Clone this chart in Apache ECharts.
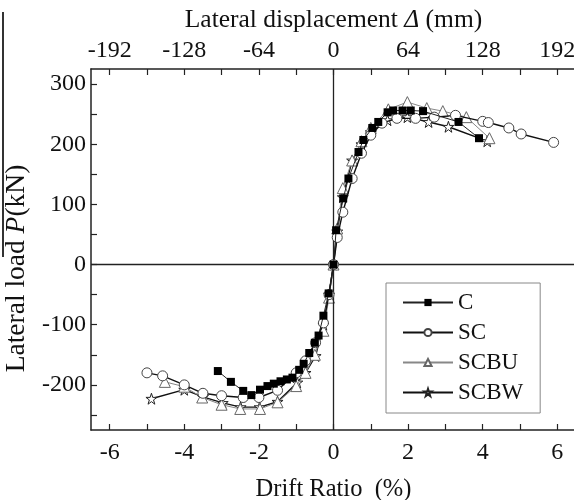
<!DOCTYPE html>
<html lang="en">
<head>
<meta charset="UTF-8">
<title>Lateral load vs drift ratio</title>
<script src="https://cdn.jsdelivr.net/npm/echarts@6/dist/echarts.min.js"></script>
<style>
  html, body { margin: 0; padding: 0; background: #fff; }
  #chart { width: 574px; height: 500px; }
</style>
</head>
<body>
<div id="chart"></div>
<script>
// drift ratio (%) / lateral load (kN)
var cDrift = [-3.1, -2.75, -2.42, -2.2, -1.97, -1.77, -1.6, -1.42, -1.25, -1.1, -0.92, -0.8, -0.65, -0.5, -0.4, -0.27, -0.13, 0, 0.07, 0.26, 0.4, 0.67, 0.8, 1.04, 1.2, 1.45, 1.6, 1.85, 2.07, 2.4, 3.35, 3.9];
var cLoad = [-177, -195, -210, -217, -208, -202, -198, -194, -191, -188, -175, -165, -147, -130, -118, -85, -48, 0, 57, 110, 143, 187, 207, 227, 237, 253, 256, 256, 256, 255, 237, 210];

var scDrift = [-5.0, -4.58, -4.0, -3.5, -3.0, -2.42, -2.0, -1.5, -1.0, -0.75, -0.48, -0.27, -0.12, 0, 0.1, 0.25, 0.5, 0.75, 1.0, 1.3, 1.7, 2.2, 2.7, 3.27, 4.0, 4.15, 4.7, 5.03, 5.9];
var scLoad = [-180, -185, -200, -214, -218, -221, -221, -209, -180, -160, -130, -97, -50, 0, 45, 87, 143, 185, 215, 235, 243, 243, 245, 248, 238, 236, 227, 217, 203];

var buDrift = [-4.52, -4.0, -3.52, -3.0, -2.5, -1.97, -1.5, -1.0, -0.75, -0.5, -0.27, -0.12, 0, 0.1, 0.25, 0.5, 0.75, 1.0, 1.47, 1.98, 2.5, 2.93, 3.56, 4.18];
var buLoad = [-195, -203, -221, -233, -240, -240, -229, -202, -180, -150, -110, -55, 0, 60, 127, 173, 205, 227, 258, 270, 260, 255, 245, 210];

var bwDrift = [-4.88, -4.0, -3.5, -2.97, -2.49, -1.98, -1.5, -0.97, -0.75, -0.48, -0.27, -0.12, 0, 0.1, 0.25, 0.5, 0.75, 1.0, 1.45, 1.98, 2.55, 3.08, 4.12];
var bwLoad = [-223, -208, -220, -230, -237, -237, -228, -196, -180, -152, -100, -50, 0, 55, 112, 173, 200, 220, 240, 245, 237, 229, 205];

var seriesNames = ['C', 'SC', 'SCBU', 'SCBW'];

// tick positions
var driftLabels = [-6, -4, -2, 0, 2, 4, 6];
var driftTicks = [-6, -5, -4, -3, -2, -1, 0, 1, 2, 3, 4, 5, 6];
var dispLabels = [-192, -128, -64, 0, 64, 128, 192];
var dispTicks = [-192, -160, -128, -96, -64, -32, 0, 32, 64, 96, 128, 160, 192];
var loadLabels = [-200, -100, 0, 100, 200, 300];
var loadTicks = [-250, -200, -150, -100, -50, 0, 50, 100, 150, 200, 250, 300];

function pairs(xs, ys) {
  return xs.map(function (x, i) { return [x, ys[i]]; });
}

var FONT = '"Liberation Serif", "Times New Roman", serif';
var INK = '#111';
var starPath = 'path://M50,2 L61,36 L97,36 L68,57 L79,92 L50,71 L21,92 L32,57 L3,36 L39,36 Z';

var chart = echarts.init(document.getElementById('chart'));

var axisCommon = {
  type: 'value',
  splitLine: { show: false },
  axisLine: { show: true, onZero: false, lineStyle: { color: '#222', width: 1.5 } },
  axisTick: { show: true, inside: true, length: 6, lineStyle: { color: '#222', width: 1.2 } },
  axisLabel: { color: INK, fontFamily: FONT, fontSize: 24 },
  nameTextStyle: { color: INK, fontFamily: FONT, fontSize: 24.5 }
};

function ax(extra) {
  return echarts.util.merge(echarts.util.clone(axisCommon), extra, true);
}

chart.setOption({
  animation: false,
  backgroundColor: '#fff',
  textStyle: { fontFamily: FONT },
  grid: { left: 91, top: 69, width: 485, height: 361, containLabel: false, outerBoundsMode: 'none' },
  graphic: [{
    type: 'line',
    shape: { x1: 3, y1: 12, x2: 3, y2: 257 },
    style: { stroke: '#333', lineWidth: 2 }
  }],
  legend: {
    data: seriesNames,
    orient: 'vertical',
    left: 386,
    top: 283,
    padding: [8, 17, 9, 16],
    itemWidth: 50,
    itemHeight: 9,
    itemGap: 7,
    borderColor: '#888',
    borderWidth: 1,
    textStyle: { color: INK, fontFamily: FONT, fontSize: 23, lineHeight: 22 }
  },
  xAxis: [
    ax({
      position: 'bottom',
      min: -6.5, max: 6.5,
      name: 'Drift Ratio  (%)',
      nameLocation: 'middle',
      nameGap: 47,
      axisTick: { customValues: driftTicks },
      axisLabel: { customValues: driftLabels, margin: 11 }
    }),
    ax({
      position: 'top',
      min: -208, max: 208,
      name: '{n|Lateral displacement }{i|Δ}{n| (mm)}',
      nameLocation: 'middle',
      nameGap: 36,
      nameTextStyle: {
        rich: {
          n: { fontFamily: FONT, fontSize: 25.5, color: INK },
          i: { fontFamily: FONT, fontSize: 25.5, color: INK, fontStyle: 'italic' }
        }
      },
      axisTick: { customValues: dispTicks },
      axisLabel: { customValues: dispLabels, margin: 6 }
    })
  ],
  yAxis: ax({
    min: -275, max: 325,
    name: '{n|Lateral load }{i|P}{n|(kN)}',
    nameLocation: 'middle',
    nameGap: 54,
    nameTextStyle: {
      padding: [0, 38, 0, 0],
      rich: {
        n: { fontFamily: FONT, fontSize: 27.5, color: INK },
        i: { fontFamily: FONT, fontSize: 27.5, color: INK, fontStyle: 'italic' }
      }
    },
    axisTick: { customValues: loadTicks },
    axisLabel: { customValues: loadLabels, margin: 5 }
  }),
  series: [
    {
      name: 'SCBW', type: 'line', z: 3,
      data: pairs(bwDrift, bwLoad),
      symbol: starPath, symbolSize: 11,
      lineStyle: { color: '#111', width: 1.4 },
      itemStyle: { color: '#fff', borderColor: '#222', borderWidth: 1 }
    },
    {
      name: 'SCBU', type: 'line', z: 4,
      data: pairs(buDrift, buLoad),
      symbol: 'triangle', symbolSize: 11,
      lineStyle: { color: '#888', width: 1 },
      itemStyle: { color: '#fff', borderColor: '#666', borderWidth: 1 }
    },
    {
      name: 'SC', type: 'line', z: 5,
      data: pairs(scDrift, scLoad),
      symbol: 'circle', symbolSize: 10,
      lineStyle: { color: '#111', width: 1.4 },
      itemStyle: { color: '#fff', borderColor: '#444', borderWidth: 1 }
    },
    {
      name: 'C', type: 'line', z: 6,
      data: pairs(cDrift, cLoad),
      symbol: 'rect', symbolSize: 8,
      lineStyle: { color: '#222', width: 1 },
      itemStyle: { color: '#000', borderColor: '#000', borderWidth: 0 },
      markLine: {
        silent: true,
        symbol: 'none',
        label: { show: false },
        lineStyle: { color: '#222', type: 'solid', width: 1.3 },
        data: [{ xAxis: 0 }, { yAxis: 0 }]
      }
    }
  ]
});
</script>
</body>
</html>
